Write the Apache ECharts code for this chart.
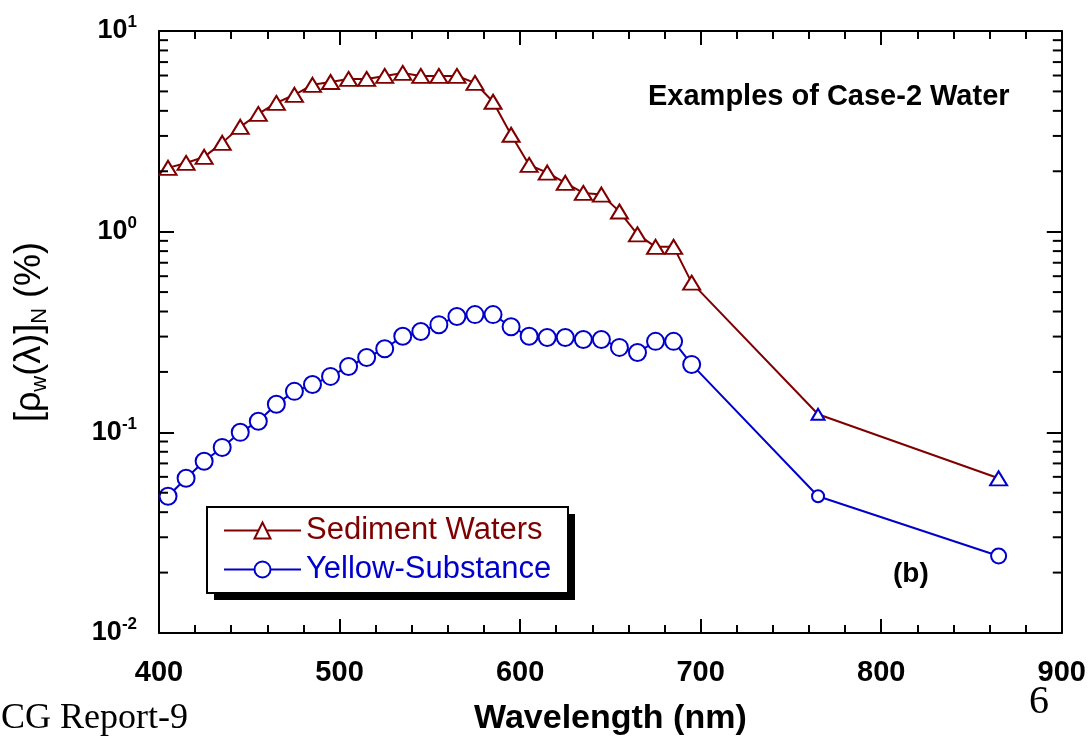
<!DOCTYPE html>
<html>
<head>
<meta charset="utf-8">
<script src="https://cdn.jsdelivr.net/npm/echarts@6/dist/echarts.min.js"></script>
<style>
html,body{margin:0;padding:0;background:#fff;}
#chart{width:1089px;height:741px;}
</style>
</head>
<body>
<div id="chart"></div>
<script>
// ---- data ----
const wavelengths = [405,415,425,435,445,455,465,475,485,495,505,515,525,535,545,555,565,575,585,595,605,615,625,635,645,655,665,675,685,695,765,865];
const sedimentWaters = [2.08,2.2,2.36,2.77,3.33,3.86,4.38,4.81,5.39,5.57,5.77,5.77,5.97,6.18,5.97,5.97,5.97,5.51,4.44,3.04,2.15,1.97,1.75,1.56,1.53,1.26,0.97,0.84,0.84,0.557,0.123,0.059];
const yellowSubstance = [0.048,0.059,0.0718,0.0841,0.100,0.1135,0.138,0.160,0.173,0.190,0.213,0.236,0.261,0.301,0.318,0.344,0.378,0.386,0.386,0.336,0.301,0.297,0.297,0.290,0.290,0.265,0.250,0.284,0.284,0.218,0.048,0.0242];
const seriesNames = ['Sediment Waters','Yellow-Substance'];
const logMinorTicks = [0.02,0.03,0.04,0.05,0.06,0.07,0.08,0.09,0.2,0.3,0.4,0.5,0.6,0.7,0.8,0.9,2,3,4,5,6,7,8,9];

const MAROON = '#7f0000';
const BLUE = '#0000cc';
const SANS = 'Liberation Sans, Arial, sans-serif';
const SERIF = 'Liberation Serif, Times New Roman, serif';

function pairs(vals, isSediment) {
  return wavelengths.map((w, i) => {
    const item = { value: [w, vals[i]] };
    if (isSediment && i >= 30) {
      item.itemStyle = { color: BLUE, borderColor: BLUE };
      if (i === 30) item.symbolSize = [13, 11];
    }
    if (!isSediment && i === 30) item.symbolSize = 12;
    if (!isSediment && i === 31) item.symbolSize = 15;
    return item;
  });
}

const chart = echarts.init(document.getElementById('chart'), null, { renderer: 'canvas' });

const axisLineStyle = { color: '#000', width: 2 };
const xCommon = {
  type: 'value', min: 400, max: 900, interval: 100,
  axisLine: { show: true, onZero: false, lineStyle: axisLineStyle },
  axisTick: { show: true, inside: true, length: 14, lineStyle: { color: '#000', width: 2 } },
  minorTick: { show: true, splitNumber: 5, length: 8, lineStyle: { color: '#000', width: 2 } },
  splitLine: { show: false }
};
const yCommon = {
  type: 'log', logBase: 10, min: 0.01, max: 10,
  axisLine: { show: true, onZero: false, lineStyle: axisLineStyle },
  axisTick: { show: true, inside: true, length: 15, lineStyle: { color: '#000', width: 2 } },
  minorTick: { show: false },
  splitLine: { show: false }
};

const option = {
  backgroundColor: '#fff',
  animation: false,
  grid: { left: 159, right: 27, top: 31, bottom: 108, containLabel: false },
  xAxis: [
    Object.assign({}, xCommon, {
      position: 'bottom',
      name: 'Wavelength (nm)', nameLocation: 'middle', nameGap: 69,
      nameTextStyle: { fontFamily: SANS, fontSize: 34, fontWeight: 'bold', color: '#000' },
      axisLabel: { show: true, margin: 25, fontFamily: SANS, fontSize: 29, fontWeight: 'bold', color: '#000' }
    }),
    Object.assign({}, xCommon, { position: 'top', axisLabel: { show: false } })
  ],
  yAxis: [
    Object.assign({}, yCommon, {
      position: 'left',
      name: '{t|[ρ}{sub|w}{t|(λ)]}{sub|N}{t| (%)}',
      nameLocation: 'middle', nameRotate: 90, nameGap: 108,
      nameTextStyle: {
        color: '#000',
        rich: {
          t: { fontFamily: SANS, fontSize: 36, color: '#000', lineHeight: 42, verticalAlign: 'middle' },
          sub: { fontFamily: SANS, fontSize: 22, color: '#000', lineHeight: 22, verticalAlign: 'bottom' }
        }
      },
      axisLabel: {
        show: true, margin: 22,
        formatter: function (v) {
          const e = Math.round(Math.log10(v));
          return '{b|10}{s|' + e + '}';
        },
        rich: {
          b: { fontFamily: SANS, fontSize: 27, fontWeight: 'bold', color: '#000', lineHeight: 34 },
          s: { fontFamily: SANS, fontSize: 17, fontWeight: 'bold', color: '#000', lineHeight: 24, verticalAlign: 'top' }
        }
      }
    }),
    Object.assign({}, yCommon, { position: 'right', axisLabel: { show: false } })
  ],
  legend: {
    orient: 'vertical', left: 207, top: 507, z: 20,
    padding: [8, 20, 8, 16], itemGap: 8,
    itemWidth: 77, itemHeight: 20,
    backgroundColor: 'transparent', borderWidth: 0,
    textStyle: { fontFamily: SANS, fontSize: 31 },
    data: [
      { name: seriesNames[0], textStyle: { color: MAROON } },
      { name: seriesNames[1], textStyle: { color: BLUE } }
    ]
  },
  graphic: [
    { type: 'rect', z: 15, shape: { x: 214, y: 514, width: 361, height: 86 }, style: { fill: '#000' } },
    { type: 'rect', z: 16, shape: { x: 207, y: 507, width: 361, height: 86 }, style: { fill: '#fff', stroke: '#000', lineWidth: 2 } },
    { type: 'text', left: 648, top: 82, style: { text: 'Examples of Case-2 Water', fontFamily: SANS, fontSize: 29, fontWeight: 'bold', fill: '#000' } },
    { type: 'text', left: 893, top: 560, style: { text: '(b)', fontFamily: SANS, fontSize: 28, fontWeight: 'bold', fill: '#000' } },
    { type: 'text', left: 1, top: 701, style: { text: 'CG Report-9', fontFamily: SERIF, fontSize: 36, fill: '#000' } },
    { type: 'text', left: 1029, top: 682, style: { text: '6', fontFamily: SERIF, fontSize: 40, fill: '#000' } }
  ],
  series: [
    {
      name: seriesNames[0], type: 'line', xAxisIndex: 0, yAxisIndex: 0,
      data: pairs(sedimentWaters, true),
      symbol: 'emptyTriangle', symbolSize: [17, 14],
      lineStyle: { color: MAROON, width: 2 },
      itemStyle: { color: MAROON, borderColor: MAROON, borderWidth: 2 },
      z: 3
    },
    {
      name: seriesNames[1], type: 'line', xAxisIndex: 0, yAxisIndex: 0,
      data: pairs(yellowSubstance, false),
      symbol: 'emptyCircle', symbolSize: 17,
      lineStyle: { color: BLUE, width: 2 },
      itemStyle: { color: BLUE, borderColor: BLUE, borderWidth: 2 },
      z: 4
    },
    {
      // log-axis minor ticks (2..9 of each decade) on left and right frame
      name: 'minorTicks', type: 'custom', xAxisIndex: 0, yAxisIndex: 0,
      clip: false, silent: true, z: 5,
      data: logMinorTicks.map(v => [400, v]),
      renderItem: function (params, api) {
        const y = api.value(1);
        const pl = api.coord([400, y]);
        const pr = api.coord([900, y]);
        return {
          type: 'group',
          children: [
            { type: 'line', shape: { x1: pl[0], y1: pl[1], x2: pl[0] + 9, y2: pl[1] }, style: { stroke: '#000', lineWidth: 2 } },
            { type: 'line', shape: { x1: pr[0], y1: pr[1], x2: pr[0] - 9, y2: pr[1] }, style: { stroke: '#000', lineWidth: 2 } }
          ]
        };
      }
    }
  ]
};
chart.setOption(option);
</script>
</body>
</html>
